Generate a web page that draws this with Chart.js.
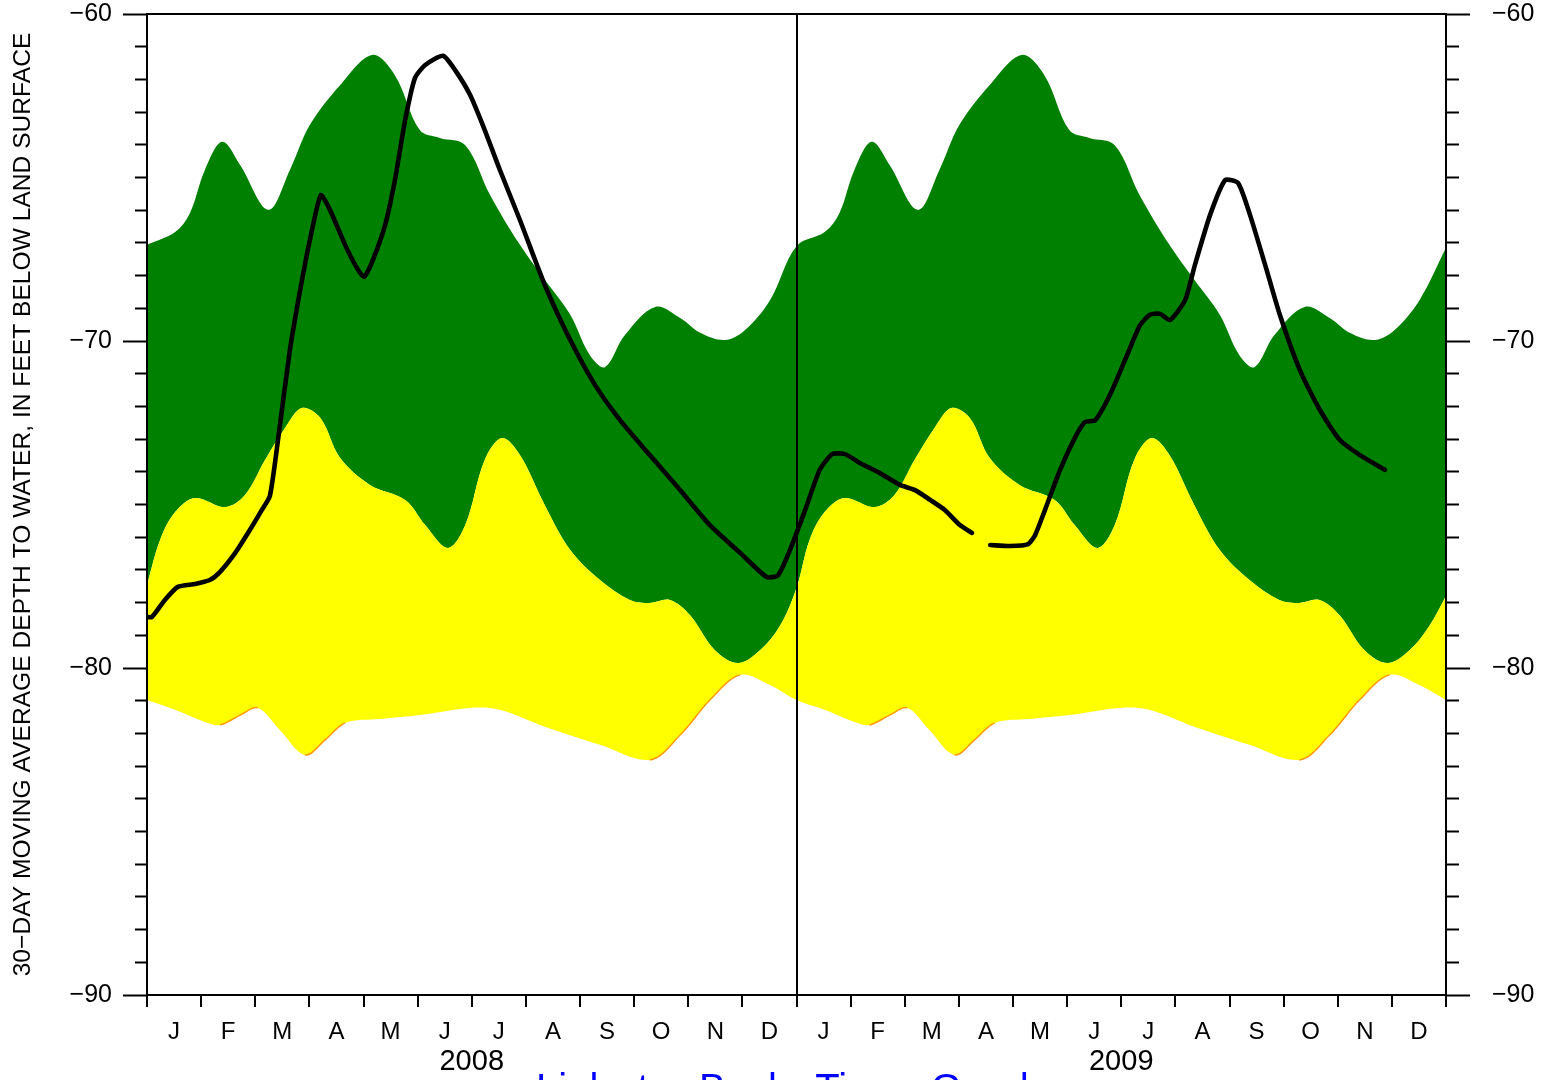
<!DOCTYPE html>
<html><head><meta charset="utf-8">
<script src="https://cdn.jsdelivr.net/npm/chart.js@4/dist/chart.umd.min.js"></script>
<style>
html,body{margin:0;padding:0;background:#fff;overflow:hidden;width:1553px;height:1080px;}
#wrap{position:relative;width:1553px;height:1080px;}
canvas{position:absolute;left:0;top:0;}
#link{position:absolute;left:536px;top:1068px;font-family:"Liberation Sans",Arial,sans-serif;font-size:40px;line-height:40px;color:#0000ff;white-space:nowrap;word-spacing:17px;}
</style></head><body>
<div id="wrap"><canvas id="c" width="1553" height="1080"></canvas><div id="link">Link to Back Time Graph</div></div>
<script>
// ---- data (x = months since Jan 1 2008) ----
const monthLabels = ['J','F','M','A','M','J','J','A','S','O','N','D','J','F','M','A','M','J','J','A','S','O','N','D'];
const monthTickPos = [0.5,1.5,2.5,3.5,4.5,5.5,6.5,7.5,8.5,9.5,10.5,11.5,12.5,13.5,14.5,15.5,16.5,17.5,18.5,19.5,20.5,21.5,22.5,23.5];
const yearLabels = ['2008','2009'];
const yearTickPos = [6,18];
const yTickValues = [-90,-89,-88,-87,-86,-85,-84,-83,-82,-81,-80,-79,-78,-77,-76,-75,-74,-73,-72,-71,-70,-69,-68,-67,-66,-65,-64,-63,-62,-61,-60];
const yMajorValues = [-90,-80,-70,-60];
const yMajorLabels = ['\u221290','\u221280','\u221270','\u221260'];
const yTitle = '30\u2212DAY MOVING AVERAGE DEPTH TO WATER, IN FEET BELOW LAND SURFACE';

// upper edge of green band
const topX = [0,0.52,0.79,1.07,1.39,1.72,2.24,2.64,3.01,3.57,4.16,4.58,5.04,5.41,5.88,6.34,6.89,7.35,7.82,8.18,8.46,8.83,9.39,9.85,10.22,10.68,11.05,11.51,
  12.0,12.52,12.79,13.07,13.39,13.72,14.24,14.64,15.01,15.57,16.16,16.58,17.04,17.41,17.88,18.34,18.89,19.35,19.82,20.18,20.46,20.83,21.39,21.85,22.22,22.68,23.05,23.51,24.0];
const topY = [-67.06,-66.67,-66.10,-64.77,-63.91,-64.62,-65.99,-64.77,-63.39,-62.17,-61.25,-61.87,-63.55,-63.79,-64.01,-65.54,-67.06,-68.13,-69.20,-70.43,-70.80,-69.82,-68.96,-69.30,-69.75,-69.97,-69.66,-68.75,
  -67.10,-66.67,-66.10,-64.77,-63.91,-64.62,-65.99,-64.77,-63.39,-62.17,-61.25,-61.87,-63.55,-63.79,-64.01,-65.54,-67.06,-68.13,-69.20,-70.43,-70.80,-69.82,-68.96,-69.30,-69.75,-69.97,-69.66,-68.75,-67.15];

// green / yellow boundary
const midX = [0,0.24,0.52,0.89,1.44,1.81,2.18,2.55,2.86,3.20,3.57,4.12,4.77,5.14,5.56,5.88,6.24,6.56,6.89,7.35,7.82,8.37,8.92,9.29,9.66,10.03,10.49,10.92,11.33,11.70,
  12.0,12.24,12.52,12.89,13.44,13.81,14.18,14.55,14.86,15.20,15.57,16.12,16.77,17.14,17.56,17.88,18.24,18.56,18.89,19.35,19.82,20.37,20.92,21.29,21.66,22.03,22.49,22.92,23.33,23.70,24.0];
const midY = [-77.46,-76.09,-75.23,-74.80,-75.08,-74.71,-73.64,-72.66,-72.05,-72.35,-73.58,-74.40,-74.86,-75.63,-76.33,-75.63,-73.64,-72.97,-73.49,-75.02,-76.39,-77.31,-77.92,-78.01,-77.92,-78.38,-79.45,-79.85,-79.45,-78.69,
  -77.55,-76.09,-75.23,-74.80,-75.08,-74.71,-73.64,-72.66,-72.05,-72.35,-73.58,-74.40,-74.86,-75.63,-76.33,-75.63,-73.64,-72.97,-73.49,-75.02,-76.39,-77.31,-77.92,-78.01,-77.92,-78.38,-79.45,-79.85,-79.45,-78.69,-77.8];

// lower edge of yellow band
const lowX = [0,0.52,1.07,1.35,1.72,2.05,2.46,2.92,3.29,3.66,4.30,5.04,5.97,6.52,7.26,8.37,9.29,9.85,10.40,10.96,11.51,
  12.0,12.52,13.07,13.35,13.72,14.05,14.46,14.92,15.29,15.66,16.30,17.04,17.97,18.52,19.26,20.37,21.29,21.85,22.40,22.96,23.51,24.0];
const lowY = [-80.98,-81.28,-81.65,-81.74,-81.44,-81.22,-81.90,-82.66,-82.20,-81.68,-81.56,-81.44,-81.22,-81.28,-81.74,-82.35,-82.81,-82.05,-80.98,-80.21,-80.52,
  -80.98,-81.28,-81.65,-81.74,-81.44,-81.22,-81.90,-82.66,-82.20,-81.68,-81.56,-81.44,-81.22,-81.28,-81.74,-82.35,-82.81,-82.05,-80.98,-80.21,-80.52,-80.98];

// observed 30-day moving average (null = gap)
const obsX = [0,0.09,0.33,0.57,0.89,1.16,1.35,1.63,1.90,2.12,2.27,2.42,2.64,2.83,3.01,3.21,3.38,3.66,3.88,4.01,4.16,4.40,4.58,4.77,4.95,5.14,5.47,5.69,5.97,6.24,6.52,6.89,7.35,7.82,8.28,8.74,9.29,9.85,10.40,10.96,11.45,11.66,11.88,
  12.16,12.43,12.66,12.90,13.17,13.54,13.91,14.19,14.47,14.74,15.02,15.24,15.40,15.58,15.94,16.28,16.41,16.59,16.87,17.15,17.33,17.52,17.79,18.07,18.35,18.53,18.72,18.90,19.18,19.36,19.64,19.92,20.16,20.38,20.66,20.93,21.30,21.67,22.04,22.41,22.87];
const obsY = [-78.44,-78.44,-77.92,-77.52,-77.43,-77.31,-77.06,-76.48,-75.78,-75.17,-74.74,-73.03,-70.28,-68.44,-66.91,-65.54,-65.99,-67.06,-67.77,-68.04,-67.58,-66.45,-65.08,-63.24,-61.96,-61.56,-61.28,-61.71,-62.48,-63.55,-64.77,-66.30,-68.29,-69.97,-71.35,-72.42,-73.49,-74.56,-75.63,-76.48,-77.22,-77.16,-76.39,
  -75.17,-73.94,-73.46,-73.46,-73.73,-74.04,-74.40,-74.56,-74.86,-75.17,-75.63,-75.87,null,-76.24,-76.27,-76.21,-75.93,-75.17,-73.94,-72.94,-72.48,-72.42,-71.65,-70.58,-69.51,-69.20,-69.17,-69.36,-68.75,-67.68,-66.15,-65.08,-65.17,-66.15,-67.68,-69.20,-70.89,-72.11,-73.03,-73.49,-73.94];

const FONT = "'Liberation Sans', Arial, Helvetica, sans-serif";
const pts = (xs, ys) => xs.map((x, i) => ({x: x, y: ys[i]}));
const isMajor = v => yMajorValues.indexOf(v) >= 0;
const majorLabel = v => { const i = yMajorValues.indexOf(v); return i >= 0 ? yMajorLabels[i] : ''; };
const noPadV = s => { s.paddingTop = 0; s.paddingBottom = 0; };
const noPadH = s => { s.paddingLeft = 0; s.paddingRight = 0; };

new Chart(document.getElementById('c'), {
  type: 'line',
  data: { datasets: [
    { label: 'upper', order: 4, data: pts(topX, topY), fill: '+1', backgroundColor: '#008000', borderWidth: 0, pointRadius: 0, tension: 0.35 },
    { label: 'middle', order: 3, data: pts(midX, midY), fill: '+1', backgroundColor: '#ffff00', borderWidth: 0, pointRadius: 0, tension: 0.35 },
    { label: 'lower', order: 2, data: pts(lowX, lowY), fill: false, borderWidth: 0, pointRadius: 0, tension: 0.35 },
    { label: 'lower edge', order: 1, data: pts(lowX, lowY), fill: false, borderWidth: 1.5, borderColor: 'rgba(0,0,0,0)', pointRadius: 0, tension: 0.35,
      segment: { borderColor: c => ((c.p1.parsed.y - c.p0.parsed.y) / (c.p1.parsed.x - c.p0.parsed.x) > 0.5 ? '#ff9900' : 'rgba(0,0,0,0)') } },
    { label: 'observed', order: 0, data: pts(obsX, obsY), fill: false, borderColor: '#000', borderWidth: 4.6, pointRadius: 0, tension: 0.2,
      borderCapStyle: 'round', borderJoinStyle: 'round', spanGaps: false }
  ]},
  options: {
    responsive: false, animation: false, devicePixelRatio: 1,
    layout: { padding: { top: 14, left: 0, right: 0, bottom: 0 } },
    plugins: { legend: { display: false }, tooltip: { enabled: false } },
    scales: {
      x: { type: 'linear', position: 'bottom', min: 0, max: 24, weight: 0,
        afterBuildTicks: s => { s.ticks = monthTickPos.map(v => ({value: v})); },
        afterFit: s => { s.height = 45; noPadH(s); },
        grid: { offset: true, drawOnChartArea: true, z: 1, color: c => (c.index === 12 ? '#000' : 'rgba(0,0,0,0)'),
          lineWidth: 2, tickColor: '#000', tickWidth: 2, tickLength: 12 },
        border: { display: true, color: '#000', width: 2, z: 1 },
        ticks: { autoSkip: false, maxRotation: 0, minRotation: 0, padding: 11, color: '#000', font: { family: FONT, size: 24 },
          callback: (v, i) => monthLabels[i] }
      },
      xYear: { type: 'linear', position: 'bottom', min: 0, max: 24, weight: 1,
        afterBuildTicks: s => { s.ticks = yearTickPos.map(v => ({value: v})); },
        afterFit: s => { s.height = 40; noPadH(s); },
        grid: { display: false, drawTicks: false },
        border: { display: false },
        ticks: { autoSkip: false, maxRotation: 0, minRotation: 0, padding: 5, color: '#000', font: { family: FONT, size: 29 },
          callback: (v, i) => yearLabels[i] }
      },
      xTop: { type: 'linear', position: 'top', min: 0, max: 24,
        afterFit: s => { s.height = 0; noPadH(s); },
        grid: { display: false, drawTicks: false },
        border: { display: true, color: '#000', width: 2, z: 1 },
        ticks: { display: false }
      },
      y: { type: 'linear', position: 'left', min: -90, max: -60,
        afterBuildTicks: s => { s.ticks = yTickValues.map(v => ({value: v})); },
        afterFit: s => { s.width = 147; noPadV(s); },
        grid: { drawOnChartArea: false, z: 1, tickLength: 24, tickColor: '#000', tickWidth: 2,
          tickBorderDash: c => (c.tick && !isMajor(c.tick.value) ? [0, 12, 12, 100] : []) },
        border: { display: true, color: '#000', width: 2, z: 1 },
        ticks: { autoSkip: false, padding: 11, color: '#000', font: { family: FONT, size: 25 }, callback: v => majorLabel(v) },
        title: { display: true, text: yTitle, color: '#000', font: { family: FONT, size: 24.6 }, padding: { top: 8, bottom: 0 } }
      },
      y2: { type: 'linear', position: 'right', min: -90, max: -60,
        afterBuildTicks: s => { s.ticks = yTickValues.map(v => ({value: v})); },
        afterFit: s => { s.width = 107; noPadV(s); },
        grid: { drawOnChartArea: false, z: 1, tickLength: 24, tickColor: '#000', tickWidth: 2,
          tickBorderDash: c => (c.tick && !isMajor(c.tick.value) ? [12, 100] : []) },
        border: { display: true, color: '#000', width: 2, z: 1 },
        ticks: { autoSkip: false, padding: 22, color: '#000', font: { family: FONT, size: 25 }, callback: v => majorLabel(v) }
      }
    }
  }
});
</script>
</body></html>
